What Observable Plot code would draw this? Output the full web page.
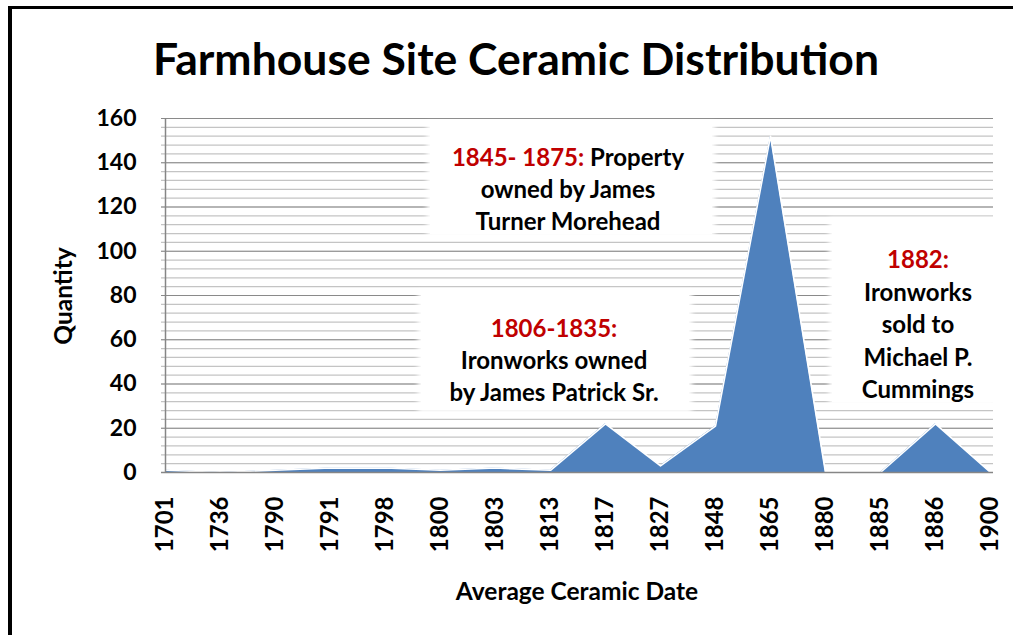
<!DOCTYPE html>
<html>
<head>
<meta charset="utf-8">
<script src="https://cdn.jsdelivr.net/npm/d3@7"></script>
<script src="https://cdn.jsdelivr.net/npm/@observablehq/plot@0.6"></script>
<style>
  html, body { margin: 0; padding: 0; background: #fff; overflow: hidden; }
  #wrap { position: relative; width: 1013px; height: 635px; font-family: Lato, "Noto Sans", sans-serif; font-weight: bold; color: #000; }
  #frame { position: absolute; left: 8px; top: 6px; width: 1100px; height: 700px; border-top: 3px solid #000; border-left: 4px solid #000; }
  #chart { position: absolute; left: 0; top: 0; }
  .title { position: absolute; left: 0; width: 1032px; text-align: center; top: 32px; font-size: 44.5px; line-height: 52px; }
  .ytitle { position: absolute; left: 62px; top: 296px; font-size: 24.5px; transform: translate(-50%, -50%) rotate(-90deg); white-space: nowrap; }
  .xtitle { position: absolute; left: 577px; top: 590px; font-size: 24.5px; transform: translate(-50%, -50%); white-space: nowrap; }
  .box { position: absolute; background: #fff; box-shadow: 0 0 5px 3px #fff; }
  .line { position: absolute; white-space: nowrap; font-size: 24px; transform: translate(-50%, -50%); }
  .red { color: #c00000; }
</style>
</head>
<body>
<div id="wrap">
  <div id="frame"></div>
  <div id="chart"></div>
</div>
<script>
const categories = ["1701","1736","1790","1791","1798","1800","1803","1813","1817","1827","1848","1865","1880","1885","1886","1900"];
const quantities = [1, 0, 1, 2, 2, 1, 2, 1, 22, 3, 21, 152, 0, 0, 22, 0];
const yTicks = [0, 20, 40, 60, 80, 100, 120, 140, 160];
const minorGrid = d3.range(0, 161, 4);

const titleText = "Farmhouse Site Ceramic Distribution";
const yTitle = "Quantity";
const xTitle = "Average Ceramic Date";

// annotation texts: [red lead, rest] per line
const note1 = [["1845- 1875: ", "Property"], ["", "owned by James"], ["", "Turner Morehead"]];
const note2 = [["1806-1835:", ""], ["", "Ironworks owned"], ["", "by James Patrick Sr."]];
const note3 = [["1882:", ""], ["", "Ironworks"], ["", "sold to"], ["", "Michael P."], ["", "Cummings"]];

const data = categories.map((c, i) => ({date: c, qty: quantities[i]}));

const chart = Plot.plot({
  width: 1013,
  height: 635,
  marginLeft: 161,
  marginRight: 20,
  marginTop: 118,
  marginBottom: 163,
  style: {fontFamily: "Lato, 'Noto Sans', sans-serif", fontWeight: "bold", fontSize: "23px", color: "#000", background: "transparent", overflow: "visible"},
  x: {type: "point", domain: categories, padding: 0},
  y: {domain: [0, 160]},
  marks: [
    Plot.ruleY(minorGrid, {stroke: "#c4c4c4", strokeWidth: 1.2}),
    Plot.ruleY(yTicks, {stroke: "#8a8a8a", strokeWidth: 1.2}),
    Plot.areaY(data, {x: "date", y: "qty", fill: "#4F81BD"}),
    Plot.lineY(data, {x: "date", y: "qty", stroke: "#ffffff", strokeWidth: 1.6}),
    Plot.ruleX([categories[0]], {stroke: "#868686", strokeWidth: 1.5}),
    Plot.ruleY([0], {stroke: "#868686", strokeWidth: 1.5}),
    Plot.axisY({ticks: yTicks, tickSize: 0, tickPadding: 25, label: null, fontSize: 23, fontWeight: "bold"}),
    Plot.axisX({tickRotate: -90, tickSize: 0, tickPadding: 24, label: null, fontSize: 24, fontWeight: "bold"})
  ]
});
document.getElementById("chart").appendChild(chart);

const wrap = document.getElementById("wrap");
function addDiv(cls, text, css) {
  const d = document.createElement("div");
  d.className = cls;
  if (text != null) d.textContent = text;
  Object.assign(d.style, css || {});
  wrap.appendChild(d);
  return d;
}
addDiv("title", titleText);
addDiv("ytitle", yTitle);
addDiv("xtitle", xTitle);

function addNote(box, cx, y0, lh, lines) {
  addDiv("box", null, {left: box[0] + "px", top: box[1] + "px", width: box[2] + "px", height: box[3] + "px"});
  lines.forEach((ln, i) => {
    const d = addDiv("line", null, {left: cx + "px", top: (y0 + i * lh) + "px"});
    if (ln[0]) { const s = document.createElement("span"); s.className = "red"; s.textContent = ln[0]; d.appendChild(s); }
    if (ln[1]) d.appendChild(document.createTextNode(ln[1]));
  });
}
addNote([430, 126, 282, 108], 568, 156, 32, note1);
addNote([421, 294, 268, 116], 554, 327, 32, note2);
addNote([832, 221, 161, 181], 918, 258, 32.5, note3);
</script>
</body>
</html>
